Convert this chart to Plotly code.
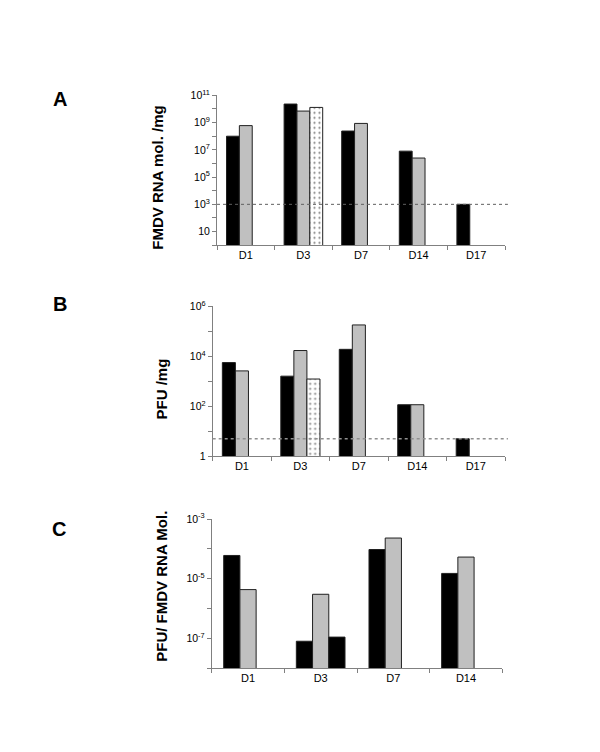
import plotly.graph_objects as go

# ---- data ----
days_AB = ["D1", "D3", "D7", "D14", "D17"]
days_C = ["D1", "D3", "D7", "D14"]

A_s1 = [1.0e8, 2.3e10, 2.4e8, 8.0e6, 1.0e3]
A_s2 = [6.0e8, 7.0e9, 8.7e8, 2.5e6, None]
A_s3 = [None, 1.3e10, None, None, None]
A_limit = 1.0e3

B_s1 = [5600, 1600, 1.9e4, 115, 5]
B_s2 = [2600, 1.7e4, 1.8e5, 115, None]
B_s3 = [None, 1230, None, None, None]
B_limit = 5

C_s1 = [6.0e-5, 8.0e-8, 9.5e-5, 1.5e-5]
C_s2 = [4.3e-6, 3.0e-6, 2.3e-4, 5.3e-5]
C_s3 = [None, 1.1e-7, None, None]

A_major = [1, 3, 5, 7, 9, 11]
A_minor = [0, 2, 4, 6, 8, 10]
B_major = [0, 2, 4, 6]
B_minor = [1, 3, 5]
C_major = [-7, -5, -3]
C_minor = [-8, -6, -4]

titles = ["FMDV RNA mol. /mg", "PFU /mg", "PFU/ FMDV RNA Mol."]
letters = ["A", "B", "C"]

FONT = "Arial, 'Liberation Sans', sans-serif"
W, H = 600, 752
BLACK = "#000000"
GRAY = "#c0c0c0"
EDGE = "#202020"
AXC = "#808080"


def sup_label(p):
    if p == 0:
        return "1"
    if p == 1:
        return "10"
    return "10<sup>%d</sup>" % p


fig = go.Figure()


def add_bars(xs, vals, color, xa, ya, pattern=False):
    marker = dict(color=color, line=dict(color=EDGE, width=1))
    if pattern:
        marker["pattern"] = dict(shape=".", fgcolor="black", bgcolor="white",
                                 size=5, solidity=0.15)
    fig.add_trace(go.Bar(x=xs, y=vals, marker=marker, xaxis=xa, yaxis=ya,
                         showlegend=False, hoverinfo="skip"))


add_bars(days_AB, A_s1, BLACK, "x", "y")
add_bars(days_AB, A_s2, GRAY, "x", "y")
add_bars(days_AB, A_s3, "white", "x", "y", pattern=True)
add_bars(days_AB, B_s1, BLACK, "x2", "y2")
add_bars(days_AB, B_s2, GRAY, "x2", "y2")
add_bars(days_AB, B_s3, "white", "x2", "y2", pattern=True)
add_bars(days_C, C_s1, BLACK, "x3", "y3")
add_bars(days_C, C_s2, GRAY, "x3", "y3")
add_bars(days_C, C_s3, BLACK, "x3", "y3")

# panel geometry in pixels: (left, right, top, bottom)
geo = [(217, 505, 89, 241.7), (212.7, 505, 304, 456.7), (211.7, 502.3, 520.7, 672.7)]


def xdom(g):
    return [g[0] / W, g[1] / W]


def ydom(g):
    return [1 - g[3] / H, 1 - g[2] / H]


def xaxis(g, anchor):
    return dict(domain=xdom(g), anchor=anchor, type="category",
                showline=True, linecolor=AXC, linewidth=1,
                ticks="outside", ticklen=4, tickcolor=AXC,
                tickson="boundaries", showgrid=False, zeroline=False,
                tickfont=dict(family=FONT, size=11, color="black"),
                fixedrange=True)


def yaxis(g, anchor, rng, major, minor):
    return dict(domain=ydom(g), anchor=anchor, type="log", range=rng,
                showline=True, linecolor=AXC, linewidth=1,
                ticks="outside", ticklen=4, tickcolor=AXC,
                tickmode="array", tickvals=[10.0 ** p for p in major],
                ticktext=[sup_label(p) for p in major],
                minor=dict(tickmode="array", tickvals=[10.0 ** p for p in minor],
                           ticks="outside", ticklen=4, tickcolor=AXC,
                           showgrid=False),
                showgrid=False, zeroline=False,
                tickfont=dict(family=FONT, size=10.5, color="black"),
                fixedrange=True)


layout = dict(
    width=W, height=H, margin=dict(l=0, r=0, t=0, b=0),
    paper_bgcolor="white", plot_bgcolor="white",
    barmode="group", bargap=0.33, bargroupgap=0,
    showlegend=False,
    xaxis=xaxis(geo[0], "y"),
    yaxis=yaxis(geo[0], "x", [0, 11], A_major, A_minor),
    xaxis2=xaxis(geo[1], "y2"),
    yaxis2=yaxis(geo[1], "x2", [0, 6], B_major, B_minor),
    xaxis3=xaxis(geo[2], "y3"),
    yaxis3=yaxis(geo[2], "x3", [-8, -3], C_major, C_minor),
)
fig.update_layout(**layout)

# detection-limit dotted lines
fig.add_shape(type="line", xref="x domain", yref="y", x0=0, x1=1.01,
              y0=A_limit, y1=A_limit,
              line=dict(color="#606060", width=1, dash="dot"))
fig.add_shape(type="line", xref="x2 domain", yref="y2", x0=0, x1=1.01,
              y0=B_limit, y1=B_limit,
              line=dict(color="#909090", width=1.5, dash="dot"))

# axis titles and panel letters
title_pos = [(158, 173), (161.7, 388), (160.7, 589)]
letter_pos = [(60, 93), (60, 302), (59, 531)]
for t, (tx, ty) in zip(titles, title_pos):
    fig.add_annotation(text="<b>%s</b>" % t, x=tx / W, y=1 - ty / H,
                       xref="paper", yref="paper", showarrow=False,
                       textangle=-90, xanchor="center", yanchor="middle",
                       font=dict(family=FONT, size=15, color="black"))
for L, (lx, ly) in zip(letters, letter_pos):
    fig.add_annotation(text="<b>%s</b>" % L, x=lx / W, y=1 - ly / H,
                       xref="paper", yref="paper", showarrow=False,
                       xanchor="center", yanchor="middle",
                       font=dict(family=FONT, size=20, color="black"))

fig.write_html("out.html",
               config={"displayModeBar": False},
               post_script="document.body.style.margin='0';")
